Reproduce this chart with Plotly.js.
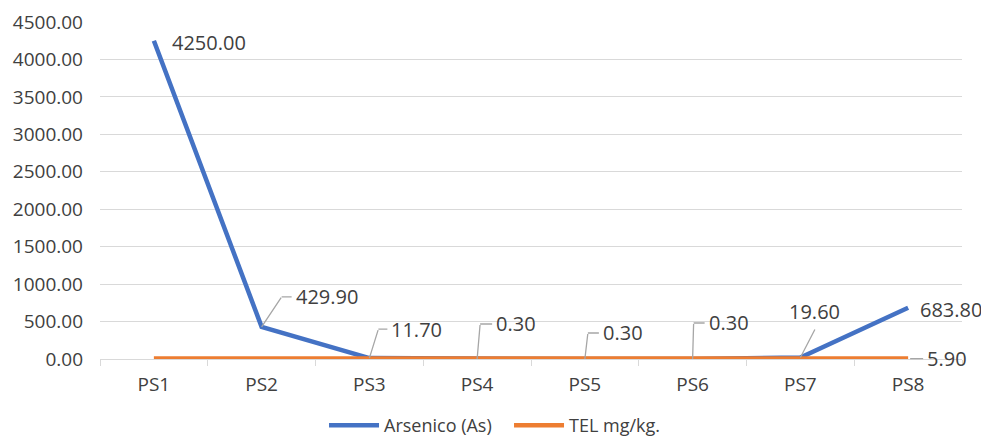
<!DOCTYPE html>
<html>
<head>
<meta charset="utf-8">
<script src="https://cdn.plot.ly/plotly-3.0.1.min.js"></script>
<style>html,body{margin:0;padding:0;background:#fff;}#chart{width:981px;height:436px;}</style>
</head>
<body>
<div id="chart"></div>
<script>
// ---- data ----
var categories = ["PS1", "PS2", "PS3", "PS4", "PS5", "PS6", "PS7", "PS8"];
var arsenic = [4250.00, 429.90, 11.70, 0.30, 0.30, 0.30, 19.60, 683.80];
var tel = [5.90, 5.90, 5.90, 5.90, 5.90, 5.90, 5.90, 5.90];
var yTicks = [0, 500, 1000, 1500, 2000, 2500, 3000, 3500, 4000, 4500];
var seriesNames = ["Arsenico (As)", "TEL mg/kg."];

// ---- label styling (pixel offsets for leader lines / labels) ----
var asLabelStyle = [
  {type: 'plain', xs: 16, ys: -2},
  {type: 'elbow', dx: 20, dy: -30, h: 10},
  {type: 'elbow', dx: 9, dy: -29, h: 9},
  {type: 'elbow', dx: 3, dy: -35, h: 12},
  {type: 'elbow', dx: 3, dy: -26, h: 11},
  {type: 'elbow', dx: 1, dy: -36, h: 11},
  {type: 'diag', dx: 15, dy: -29, tx: 14, ty: 46},
  {type: 'plain', xs: 10, ys: -2}
];

var labelFont = {family: "Open Sans, sans-serif", size: 20, color: "#404040"};
var leaderColor = "#a6a6a6";
var annotations = [];

function addLabel(cat, val, st) {
  var txt = val.toFixed(2);
  if (st.type === 'plain') {
    annotations.push({x: cat, y: val, xref: 'x', yref: 'y', text: txt, showarrow: false,
      xanchor: 'left', yanchor: 'middle', xshift: st.xs, yshift: st.ys, font: labelFont});
  } else if (st.type === 'elbow') {
    annotations.push({x: cat, y: val, xref: 'x', yref: 'y', text: ' ', showarrow: true,
      arrowhead: 0, arrowwidth: 1.3, arrowcolor: leaderColor, ax: st.dx, ay: st.dy,
      standoff: 0, font: {size: 1}, borderpad: 0});
    annotations.push({x: cat, y: val, xref: 'x', yref: 'y', text: txt, showarrow: true,
      arrowhead: 0, arrowwidth: 1.3, arrowcolor: leaderColor, ax: st.h, ay: 0,
      xshift: st.dx, yshift: -st.dy, xanchor: 'left', yanchor: 'middle',
      standoff: 0, font: labelFont, borderpad: 3});
  } else if (st.type === 'diag') {
    annotations.push({x: cat, y: val, xref: 'x', yref: 'y', text: ' ', showarrow: true,
      arrowhead: 0, arrowwidth: 1.3, arrowcolor: leaderColor, ax: st.dx, ay: st.dy,
      standoff: 0, font: {size: 1}, borderpad: 0});
    annotations.push({x: cat, y: val, xref: 'x', yref: 'y', text: txt, showarrow: false,
      xanchor: 'center', yanchor: 'middle', xshift: st.tx, yshift: st.ty, font: labelFont});
  }
}
for (var i = 0; i < categories.length; i++) addLabel(categories[i], arsenic[i], asLabelStyle[i]);
var lastI = categories.length - 1;
annotations.push({x: categories[lastI], y: tel[lastI], xref: 'x', yref: 'y', text: tel[lastI].toFixed(2),
  showarrow: true, arrowhead: 0, arrowwidth: 1.3, arrowcolor: leaderColor, ax: 13, ay: 0,
  xshift: 2, xanchor: 'left', yanchor: 'middle', standoff: 0, font: labelFont, borderpad: 3});

var traces = [
  {x: categories, y: arsenic, name: seriesNames[0], type: 'scatter', mode: 'lines',
   line: {color: '#4472C4', width: 4.5}},
  {x: categories, y: tel, name: seriesNames[1], type: 'scatter', mode: 'lines',
   line: {color: '#ED7D31', width: 4.5}}
];

var tickFont = {family: "Open Sans, sans-serif", size: 19, color: "#404040"};
var layout = {
  width: 981, height: 436,
  margin: {l: 100, r: 19, t: 22, b: 77, autoexpand: false},
  paper_bgcolor: '#ffffff', plot_bgcolor: '#ffffff',
  showlegend: true,
  legend: {orientation: 'h', xref: 'container', yref: 'container',
    x: 0.3303, xanchor: 'left', y: 0.024, yanchor: 'middle',
    font: {family: "Open Sans, sans-serif", size: 18, color: "#404040"}, itemwidth: 50,
    entrywidth: 120, bgcolor: 'rgba(0,0,0,0)'},
  xaxis: {type: 'category', range: [-0.5, categories.length - 0.5], autorange: false,
    showgrid: false, showline: true, linecolor: '#d9d9d9', linewidth: 1,
    ticks: 'outside', tickson: 'boundaries', ticklen: 6, tickcolor: '#d9d9d9', tickwidth: 1,
    ticklabelstandoff: 8, tickfont: tickFont, zeroline: false, fixedrange: true},
  yaxis: {range: [0, 4500], autorange: false, tickvals: yTicks, tickformat: '.2f', showgrid: true,
    gridcolor: '#d9d9d9', gridwidth: 1, zeroline: false, showline: false, ticks: '',
    ticklabelstandoff: 16, tickfont: tickFont, fixedrange: true},
  annotations: annotations
};

Plotly.newPlot('chart', traces, layout, {staticPlot: true, displayModeBar: false});
</script>
</body>
</html>
